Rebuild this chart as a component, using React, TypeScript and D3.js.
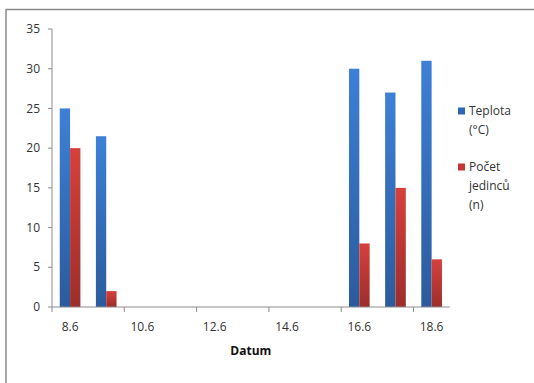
import * as d3 from "d3";

const dates = ["8.6", "9.6", "10.6", "11.6", "12.6", "13.6", "14.6", "15.6", "16.6", "17.6", "18.6"];
const teplota: (number | null)[] = [25, 21.5, null, null, null, null, null, null, 30, 27, 31];
const pocet: (number | null)[] = [20, 2, null, null, null, null, null, null, 8, 15, 6];
const yTicks = [0, 5, 10, 15, 20, 25, 30, 35];

const series = [
  { key: "Teplota", values: teplota, fill: "url(#gBlue)", legend: "#2f67b3", lines: ["Teplota", "(°C)"] },
  { key: "Počet", values: pocet, fill: "url(#gRed)", legend: "#c63633", lines: ["Počet", "jedinců", "(n)"] },
];

const W = 534;
const H = 383;
const left = 52;
const right = 449.7;
const top = 29;
const bottom = 307;
const font = "'Open Sans', 'Liberation Sans', sans-serif";

export default function App() {
  const x = d3.scaleBand<string>().domain(dates).range([left, right]).paddingInner(0).paddingOuter(0);
  const inner = d3
    .scaleBand<string>()
    .domain(series.map(s => s.key))
    .range([0, x.bandwidth()])
    .paddingInner(0)
    .paddingOuter(0.75);
  const y = d3.scaleLinear().domain([0, 35]).range([bottom, top]);
  const axisColor = "#8c8c8c";

  return (
    <svg width={W} height={H} style={{ position: "absolute", left: 0, top: 0 }}>
      <defs>
        <linearGradient id="gBlue" x1="0" y1="0" x2="0" y2="1">
          <stop offset="0" stopColor="#3d80d6" />
          <stop offset="1" stopColor="#2b5b9c" />
        </linearGradient>
        <linearGradient id="gRed" x1="0" y1="0" x2="0" y2="1">
          <stop offset="0" stopColor="#d6403c" />
          <stop offset="1" stopColor="#9c2e2b" />
        </linearGradient>
      </defs>
      <rect x={0} y={0} width={W} height={H} fill="white" />
      {/* chart frame: only top and left edges are visible */}
      <line x1={6} y1={9.5} x2={W} y2={9.5} stroke="#8a8a8a" strokeWidth={1.5} />
      <line x1={6} y1={9} x2={6} y2={H} stroke="#8a8a8a" strokeWidth={1.5} />

      {/* y axis */}
      <line x1={left} y1={top} x2={left} y2={bottom} stroke={axisColor} />
      {yTicks.map(t => (
        <g key={t}>
          <line x1={left - 4} x2={left} y1={y(t)} y2={y(t)} stroke={axisColor} />
          <text x={40} y={y(t)} dy="0.35em" textAnchor="end" fontFamily={font} fontSize={12} fill="#333">
            {t}
          </text>
        </g>
      ))}

      {/* bars */}
      {series.map(s =>
        dates.map((d, i) => {
          const v = s.values[i];
          if (v == null) return null;
          return (
            <rect
              key={s.key + d}
              x={(x(d) ?? 0) + (inner(s.key) ?? 0)}
              y={y(v)}
              width={inner.bandwidth()}
              height={y(0) - y(v)}
              fill={s.fill}
            />
          );
        })
      )}

      {/* x axis */}
      <line x1={left} y1={bottom} x2={right} y2={bottom} stroke={axisColor} />
      {dates.map((d, i) =>
        i % 2 === 0 ? (
          <g key={d}>
            <line x1={x(d)} x2={x(d)} y1={bottom} y2={bottom + 5} stroke={axisColor} />
            <text
              x={(x(d) ?? 0) + x.bandwidth() / 2}
              y={327}
              dy="0.35em"
              textAnchor="middle"
              fontFamily={font}
              fontSize={12}
              fill="#333"
            >
              {d}
            </text>
          </g>
        ) : null
      )}
      <text x={(left + right) / 2} y={351} dy="0.35em" textAnchor="middle" fontFamily={font} fontSize={12} fontWeight="bold" fill="#111">
        Datum
      </text>

      {/* legend */}
      {series.map((s, si) => {
        const y0 = si === 0 ? 111 : 167;
        return (
          <g key={s.key}>
            <rect x={458} y={y0 - 3.5} width={7} height={7} fill={s.legend} />
            {s.lines.map((ln, li) => (
              <text key={ln} x={469} y={y0 + li * 19} dy="0.35em" fontFamily={font} fontSize={12} fill="#333">
                {ln}
              </text>
            ))}
          </g>
        );
      })}
    </svg>
  );
}
